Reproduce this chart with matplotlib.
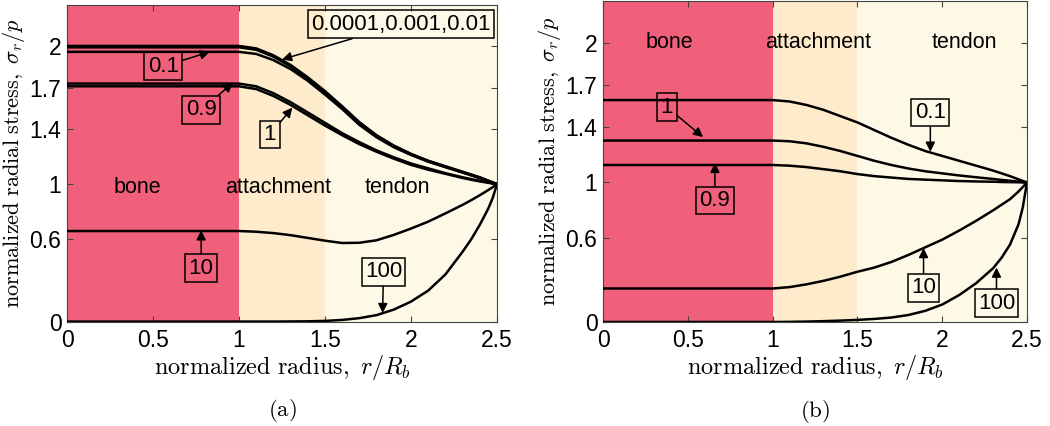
import numpy as np
import matplotlib
matplotlib.use("Agg")
from matplotlib import pyplot as plt

plt.rcParams['font.family'] = ['Liberation Sans', 'DejaVu Sans']
plt.rcParams['mathtext.fontset'] = 'cm'

# normalized radius samples (flat from 0 to 1)
r = [0, 1.0, 1.1, 1.2, 1.3, 1.4, 1.5, 1.6, 1.7, 1.8, 1.9, 2.0, 2.1, 2.2, 2.3, 2.35, 2.4, 2.45, 2.475, 2.5]

# panel (a)
a_0001 = [2.003, 2.003, 1.985, 1.935, 1.865, 1.775, 1.675, 1.565, 1.45, 1.355, 1.28, 1.22, 1.17, 1.13, 1.09, 1.07, 1.05, 1.025, 1.012, 1.0]
a_001 = [1.998, 1.998, 1.98, 1.93, 1.86, 1.77, 1.67, 1.56, 1.445, 1.35, 1.277, 1.218, 1.168, 1.128, 1.088, 1.068, 1.048, 1.024, 1.012, 1.0]
a_01 = [1.993, 1.993, 1.975, 1.925, 1.855, 1.765, 1.665, 1.555, 1.44, 1.346, 1.274, 1.215, 1.166, 1.126, 1.086, 1.066, 1.046, 1.023, 1.011, 1.0]
a_1 = [1.96, 1.96, 1.945, 1.9, 1.835, 1.75, 1.65, 1.545, 1.43, 1.34, 1.268, 1.212, 1.163, 1.123, 1.084, 1.064, 1.044, 1.022, 1.011, 1.0]
a_9 = [1.73, 1.73, 1.71, 1.66, 1.595, 1.52, 1.445, 1.37, 1.305, 1.245, 1.195, 1.15, 1.115, 1.08, 1.05, 1.037, 1.025, 1.012, 1.006, 1.0]
a_10x = [1.71, 1.71, 1.69, 1.64, 1.575, 1.5, 1.425, 1.355, 1.29, 1.235, 1.185, 1.14, 1.105, 1.075, 1.045, 1.032, 1.02, 1.01, 1.005, 1.0]
a_10 = [0.66, 0.66, 0.655, 0.645, 0.63, 0.61, 0.59, 0.573, 0.575, 0.593, 0.632, 0.678, 0.728, 0.788, 0.85, 0.884, 0.92, 0.958, 0.978, 1.0]
a_100 = [0.003, 0.003, 0.003, 0.003, 0.004, 0.005, 0.008, 0.015, 0.028, 0.05, 0.09, 0.148, 0.228, 0.345, 0.51, 0.6, 0.705, 0.825, 0.9, 1.0]

# panel (b)
b_1 = [1.59, 1.59, 1.58, 1.555, 1.52, 1.475, 1.43, 1.375, 1.32, 1.27, 1.225, 1.19, 1.155, 1.12, 1.085, 1.065, 1.045, 1.022, 1.011, 1.0]
b_10x = [1.30, 1.30, 1.295, 1.28, 1.255, 1.225, 1.19, 1.155, 1.125, 1.1, 1.08, 1.065, 1.05, 1.037, 1.025, 1.018, 1.012, 1.006, 1.003, 1.0]
b_9 = [1.125, 1.125, 1.12, 1.11, 1.095, 1.08, 1.06, 1.045, 1.035, 1.025, 1.02, 1.015, 1.01, 1.007, 1.005, 1.003, 1.002, 1.001, 1.0, 1.0]
b_10 = [0.24, 0.24, 0.25, 0.27, 0.295, 0.325, 0.36, 0.39, 0.43, 0.48, 0.535, 0.59, 0.655, 0.725, 0.8, 0.84, 0.88, 0.935, 0.967, 1.0]
b_100 = [0.0, 0.0, 0.001, 0.003, 0.006, 0.01, 0.015, 0.022, 0.032, 0.05, 0.08, 0.125, 0.193, 0.278, 0.385, 0.46, 0.555, 0.7, 0.82, 1.0]

regions = ['bone', 'attachment', 'tendon']
region_edges = [0, 1.0, 1.5, 2.5]
region_colors = ['#F0607A', '#FDEBCB', '#FEF9E6']
yticks = [0, 0.6, 1, 1.4, 1.7, 2]
xticks = [0, 0.5, 1, 1.5, 2, 2.5]


def setup(ax, text_y, text_x, tag, ylab_x):
    for i in range(3):
        ax.axvspan(region_edges[i], region_edges[i + 1], color=region_colors[i], lw=0, zorder=0)
        ax.text(text_x[i], text_y, regions[i], ha='center', va='center', fontsize=15.5)
    ax.set_xlim(0, 2.5)
    ax.set_ylim(0, 2.3)
    ax.set_xticks(xticks)
    ax.set_xticklabels(['0', '0.5', '1', '1.5', '2', '2.5'])
    ax.set_yticks(yticks)
    ax.set_yticklabels(['0', '0.6', '1', '1.4', '1.7', '2'])
    ax.tick_params(direction='in', top=True, right=True, labelsize=16.5, length=4, color='#444444')
    ax.tick_params(axis='x', pad=5)
    ax.tick_params(axis='y', pad=4)
    for s in ax.spines.values():
        s.set_color('#444444')
        s.set_linewidth(0.8)
    ax.set_xlabel(r'$\mathrm{normalized\ radius,}\ r/R_b$', fontsize=17.5, labelpad=1)
    ax.set_ylabel(r'$\mathrm{normalized\ radial\ stress,}\ \sigma_r/p$', fontsize=16)
    ax.yaxis.set_label_coords(ylab_x, 0.5)
    ax.text(0.5, -0.28, r'$\mathrm{(' + tag + ')}$', transform=ax.transAxes,
            ha='center', va='center', fontsize=16.5)


def label(ax, txt, xy, xytext):
    ax.annotate(txt, xy=xy, xytext=xytext, ha='center', va='center', fontsize=16,
                bbox=dict(boxstyle='square,pad=0.15', fc='none', ec='black', lw=1.1),
                arrowprops=dict(arrowstyle='-|>', color='black', lw=1.1, mutation_scale=14,
                                shrinkA=0, shrinkB=0))


fig = plt.figure(figsize=(10.5, 4.26), dpi=100)
ax1 = fig.add_axes([67 / 1050, 1 - 322 / 426, 430 / 1050, 317 / 426])
ax2 = fig.add_axes([603 / 1050, 1 - 322 / 426, 424 / 1050, 321 / 426])

setup(ax1, 0.975, [0.41, 1.23, 1.92], 'a', -0.092)
for y in [a_0001, a_001, a_01, a_1, a_9, a_10x, a_10, a_100]:
    ax1.plot(r, y, color='black', lw=1.8, zorder=3)
label(ax1, '0.0001,0.001,0.01', (1.25, 1.905), (1.94, 2.16))
label(ax1, '0.1', (0.83, 1.96), (0.56, 1.855))
label(ax1, '0.9', (0.965, 1.735), (0.78, 1.54))
label(ax1, '1', (1.31, 1.555), (1.18, 1.36))
label(ax1, '10', (0.78, 0.665), (0.78, 0.39))
label(ax1, '100', (1.835, 0.065), (1.84, 0.364))

setup(ax2, 2.0, [0.39, 1.27, 2.13], 'b', -0.094)
for y in [b_1, b_10x, b_9, b_10, b_100]:
    ax2.plot(r, y, color='black', lw=1.8, zorder=3)
label(ax2, '1', (0.59, 1.325), (0.377, 1.54))
label(ax2, '0.9', (0.66, 1.14), (0.66, 0.87))
label(ax2, '0.1', (1.93, 1.22), (1.93, 1.50))
label(ax2, '10', (1.89, 0.53), (1.89, 0.245))
label(ax2, '100', (2.32, 0.39), (2.32, 0.135))

fig.savefig('out.png', dpi=100)
